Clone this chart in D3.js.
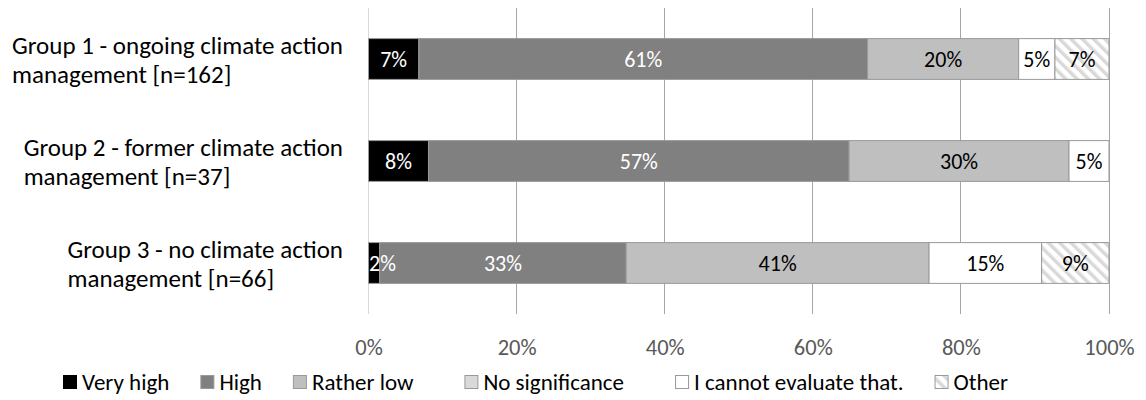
<!DOCTYPE html>
<html>
<head>
<meta charset="utf-8">
<script src="https://cdn.jsdelivr.net/npm/d3@7"></script>
<style>
  html, body { margin: 0; padding: 0; background: #fff; }
  svg { display: block; font-family: Carlito, Calibri, Lato, "Open Sans", sans-serif; }
</style>
</head>
<body>
<svg id="chart" width="1146" height="400"></svg>
<script>
// Survey groups (y categories), each label split over two lines
const groups = ["g1", "g2", "g3"];
const groupLines = [
  ["Group 1 - ongoing climate action", "management [n=162]"],
  ["Group 2 - former climate action", "management [n=37]"],
  ["Group 3 - no climate action", "management [n=66]"]
];

// Answer categories (stack order, left to right)
const answers = ["Very high", "High", "Rather low", "No significance", "I cannot evaluate that.", "Other"];

// Share of respondents per answer, in percent, one array per answer (g1, g2, g3)
const veryHigh       = [6.8, 8.1, 1.5];
const high           = [60.6, 56.8, 33.3];
const ratherLow      = [20.4, 29.7, 40.9];
const noSignificance = [0, 0, 0];
const cannotEvaluate = [4.9, 5.4, 15.2];
const other          = [7.3, 0, 9.1];

// X axis ticks
const xTicks = [0, 20, 40, 60, 80, 100];

const seriesValues = [veryHigh, high, ratherLow, noSignificance, cannotEvaluate, other];

const fills = ["#000000", "#808080", "#bfbfbf", "#d9d9d9", "#ffffff", "url(#hatch)"];
const labelColors = ["#ffffff", "#ffffff", "#000000", "#000000", "#000000", "#000000"];

const svg = d3.select("#chart");
const LABEL_SIZE = 22;
const TICK_SIZE = 22.5;
const CAT_SIZE = 25;
const LEGEND_SIZE = 23;

// Light diagonal hatching for "Other"
const defs = svg.append("defs");
const pat = defs.append("pattern")
  .attr("id", "hatch")
  .attr("patternUnits", "userSpaceOnUse")
  .attr("width", 8).attr("height", 8)
  .attr("patternTransform", "rotate(-45)");
pat.append("rect").attr("width", 8).attr("height", 8).attr("fill", "#ffffff");
pat.append("rect").attr("width", 3.5).attr("height", 8).attr("fill", "#d9d9d9");

// Build stacked table
const table = groups.map((g, i) => {
  const row = { group: g };
  answers.forEach((a, j) => { row[a] = seriesValues[j][i]; });
  return row;
});
const stacked = d3.stack().keys(answers)(table);

const x = d3.scaleLinear().domain([0, 100]).range([368.5, 1109]);
const y = d3.scaleBand().domain(groups).range([8, 314]).paddingInner(0.6).paddingOuter(0.3);

// Vertical gridlines
const grid = svg.append("g").attr("class", "grid");
grid.selectAll("line")
  .data(xTicks)
  .join("line")
  .attr("x1", d => x(d)).attr("x2", d => x(d))
  .attr("y1", 8).attr("y2", 314)
  .attr("stroke", d => d === 0 ? "#d9d9d9" : "#a6a6a6")
  .attr("stroke-width", 1)
  .attr("shape-rendering", "crispEdges");

// Stacked bars
const layers = svg.append("g").selectAll("g")
  .data(stacked)
  .join("g")
  .attr("fill", (d, i) => fills[i]);

layers.selectAll("rect")
  .data(d => d.filter(s => s[1] - s[0] > 0).map(s => ({ s, key: d.key })))
  .join("rect")
  .attr("x", d => x(d.s[0]))
  .attr("width", d => x(d.s[1]) - x(d.s[0]))
  .attr("y", d => y(d.s.data.group))
  .attr("height", y.bandwidth())
  .attr("stroke", "#999999")
  .attr("stroke-width", 1);

// Data labels
const labelLayer = svg.append("g")
  .attr("font-size", LABEL_SIZE)
  .attr("text-anchor", "middle");
stacked.forEach((layer, i) => {
  layer.forEach(s => {
    const v = s[1] - s[0];
    if (v <= 0) return;
    const t = labelLayer.append("text")
      .attr("fill", labelColors[i])
      .attr("y", y(s.data.group) + y.bandwidth() / 2)
      .attr("dy", "0.35em")
      .text(d3.format(".0f")(v) + "%");
    const w = t.node().getComputedTextLength();
    let cx = (x(s[0]) + x(s[1])) / 2;
    cx = Math.max(cx, x(0) + w / 2 + 0.5);
    t.attr("x", cx);
  });
});

// X axis tick labels
const axis = svg.append("g")
  .attr("transform", "translate(0,314)")
  .call(d3.axisBottom(x).tickValues(xTicks).tickFormat(d => d + "%").tickSize(0).tickPadding(25));
axis.select(".domain").remove();
axis.attr("font-family", null).attr("font-size", TICK_SIZE);
axis.selectAll("text").attr("fill", "#595959");

// Category labels: two-line block, left-aligned lines, block right-aligned to the plot
const catLayer = svg.append("g").attr("font-size", CAT_SIZE).attr("fill", "#000");
const LINE_H = 29;
groups.forEach((g, i) => {
  const block = catLayer.append("text");
  const lines = groupLines[i];
  lines.forEach((ln, k) => {
    block.append("tspan")
      .attr("y", y(g) + y.bandwidth() / 2 + 1 + (k - (lines.length - 1) / 2) * LINE_H)
      .attr("dy", "0.35em")
      .text(ln);
  });
  let maxW = 0;
  block.selectAll("tspan").each(function () {
    maxW = Math.max(maxW, this.getComputedTextLength());
  });
  block.selectAll("tspan").attr("x", 343 - maxW);
});

// Legend, laid out left to right; the "No significance" slot carries some extra room
const legend = svg.append("g").attr("font-size", LEGEND_SIZE);
let lx = 63;
const ly = 382;
const SWATCH_OFFSET = 19, ITEM_GAP = 31, WIDE_SLOT_PAD = 20;
answers.forEach((a, i) => {
  if (i === 3) lx += WIDE_SLOT_PAD;
  legend.append("rect")
    .attr("x", lx + 0.5).attr("y", ly - 6.5)
    .attr("width", 13).attr("height", 13)
    .attr("fill", fills[i])
    .attr("stroke", i === 0 ? "#000" : "#999999")
    .attr("stroke-width", 1);
  const t = legend.append("text")
    .attr("x", lx + SWATCH_OFFSET)
    .attr("y", ly)
    .attr("dy", "0.35em")
    .text(a);
  lx += SWATCH_OFFSET + t.node().getComputedTextLength() + ITEM_GAP + (i === 3 ? WIDE_SLOT_PAD : 0);
});
</script>
</body>
</html>
